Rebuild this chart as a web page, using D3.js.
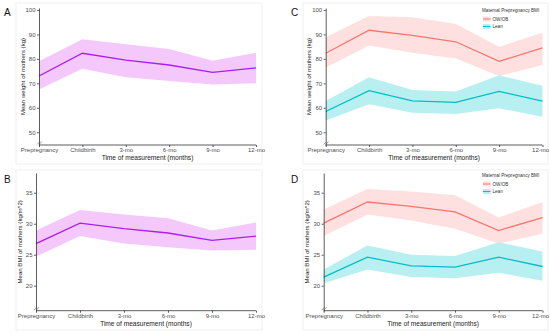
<!DOCTYPE html>
<meta charset="utf-8">
<title>Maternal weight and BMI</title>
<style>
  body { margin: 0; background: #fff; }
  svg { font-family: "Liberation Sans", Arial, sans-serif; }
  .tick text { fill: #4d4d4d; font-size: 6px; }
  .axis path, .axis line { stroke: #333; stroke-width: 0.8px; }
  .ytitle { fill: #1a1a1a; font-size: 6.1px; }
  .xtitle { fill: #1a1a1a; font-size: 6.6px; }
  .plabel { font-size: 10px; fill: #111; }
  .legend text { fill: #333; font-size: 4.6px; }
</style>
<body>
<svg width="550" height="335"></svg>
<script src="https://d3js.org/d3.v7.min.js"></script>
<script>

  var times = ["Prepregnancy", "Childbirth", "3-mo", "6-mo", "9-mo", "12-mo"];

  // A: weight, all mothers
  var wAllMean = [73.0, 82.3, 79.5, 77.5, 74.5, 76.3];
  var wAllHi   = [79.0, 88.0, 86.0, 84.0, 79.2, 82.5];
  var wAllLo   = [67.5, 76.0, 72.5, 71.0, 69.5, 70.0];

  // B: BMI, all mothers
  var bAllMean = [26.8, 30.1, 29.2, 28.5, 27.3, 28.0];
  var bAllHi   = [28.9, 32.2, 31.5, 30.9, 28.9, 30.2];
  var bAllLo   = [24.7, 28.0, 26.8, 26.2, 25.7, 25.8];

  // C: weight by prepregnancy BMI group
  var wObMean  = [82.3, 91.7, 89.6, 87.0, 79.0, 84.5];
  var wObHi    = [88.8, 97.5, 97.0, 94.3, 85.0, 90.7];
  var wObLo    = [76.5, 85.5, 82.5, 80.2, 73.0, 77.5];
  var wLeanMean = [58.5, 67.0, 62.8, 62.2, 66.7, 62.7];
  var wLeanHi   = [62.8, 72.5, 67.3, 66.7, 73.3, 69.0];
  var wLeanLo   = [54.8, 61.5, 58.0, 57.5, 59.8, 56.3];

  // D: BMI by prepregnancy BMI group
  var bObMean  = [30.1, 33.5, 32.8, 31.9, 28.9, 31.0];
  var bObHi    = [32.3, 35.6, 35.2, 34.6, 31.0, 33.5];
  var bObLo    = [28.0, 31.5, 30.5, 29.2, 26.8, 28.4];
  var bLeanMean = [21.4, 24.6, 23.2, 23.0, 24.6, 23.1];
  var bLeanHi   = [22.6, 26.5, 25.0, 24.8, 27.0, 25.5];
  var bLeanLo   = [20.4, 22.6, 21.4, 21.2, 22.1, 20.8];

  var weightTicks = [50, 60, 70, 80, 90, 100];
  var bmiTicks = [20, 25, 30, 35];
  var groups = ["OW/OB", "Lean"];

  var purple = { line: "#a81ff0", fill: "#f4c8fb" };
  var red = { line: "#f8766d", fill: "#fde0df" };
  var teal = { line: "#00bfc4", fill: "#b8eff1" };

  var svg = d3.select("svg");

  var panels = [
    { label: "A", box: [16, 3, 262, 164], x: [39, 256], y: [145, 8], dom: [44.8, 100.8], ticks: weightTicks,
      ytitle: "Mean weight of mothers (kg)", series: [{ m: wAllMean, hi: wAllHi, lo: wAllLo, c: purple }] },
    { label: "B", box: [16, 170, 262, 330], x: [36, 256], y: [310.7, 173], dom: [15.97, 38.18], ticks: bmiTicks,
      ytitle: "Mean BMI of mothers (kg/m^2)", series: [{ m: bAllMean, hi: bAllHi, lo: bAllLo, c: purple }] },
    { label: "C", box: [303, 3, 548, 164], x: [325.7, 542.5], y: [145, 8], dom: [44.8, 100.8], ticks: weightTicks,
      ytitle: "Mean weight of mothers (kg)", legend: true,
      series: [{ m: wObMean, hi: wObHi, lo: wObLo, c: red }, { m: wLeanMean, hi: wLeanHi, lo: wLeanLo, c: teal }] },
    { label: "D", box: [303, 170, 548, 330], x: [323.7, 542.5], y: [310.7, 173], dom: [15.97, 38.18], ticks: bmiTicks,
      ytitle: "Mean BMI of mothers (kg/m^2)", legend: true,
      series: [{ m: bObMean, hi: bObHi, lo: bObLo, c: red }, { m: bLeanMean, hi: bLeanHi, lo: bLeanLo, c: teal }] }
  ];

  panels.forEach(function (p) {
    var g = svg.append("g");

    g.append("rect")
      .attr("x", p.box[0]).attr("y", p.box[1])
      .attr("width", p.box[2] - p.box[0]).attr("height", p.box[3] - p.box[1])
      .attr("fill", "none").attr("stroke", "#ececec").attr("stroke-width", 0.8);

    var x = d3.scalePoint().domain(times).range(p.x);
    var y = d3.scaleLinear().domain(p.dom).range(p.y);

    var area = d3.area()
      .x(function (d, i) { return x(times[i]); })
      .y0(function (d) { return y(d[0]); })
      .y1(function (d) { return y(d[1]); });
    var line = d3.line()
      .x(function (d, i) { return x(times[i]); })
      .y(function (d) { return y(d); });

    p.series.forEach(function (s) {
      g.append("path")
        .attr("d", area(s.lo.map(function (v, i) { return [v, s.hi[i]]; })))
        .attr("fill", s.c.fill);
    });
    p.series.forEach(function (s) {
      g.append("path")
        .attr("d", line(s.m))
        .attr("fill", "none")
        .attr("stroke", s.c.line)
        .attr("stroke-width", 1.3);
    });

    var xAxis = g.append("g").attr("class", "axis")
      .attr("transform", "translate(0," + p.y[0] + ")")
      .call(d3.axisBottom(x).tickSize(2).tickPadding(1.2).tickSizeOuter(0));
    xAxis.select(".domain").attr("d", "M" + p.x[0] + ",0H" + p.x[1]);
    // keep the last label inside the right edge
    if (p.x[1] > 540) {
      xAxis.selectAll(".tick text").filter(function (d) { return d === "12-mo"; })
        .attr("dx", "-0.4em");
    }

    g.append("g").attr("class", "axis")
      .attr("transform", "translate(" + p.x[0] + ",0)")
      .call(d3.axisLeft(y).tickValues(p.ticks).tickSize(2).tickPadding(1.5).tickSizeOuter(0));

    // axis break marks
    var bx = p.x[0], by = p.y[0] - 2;
    [0, 2].forEach(function (o) {
      g.append("line")
        .attr("x1", bx - 2 + o).attr("y1", by + 1.5)
        .attr("x2", bx + 1 + o).attr("y2", by - 1.5)
        .attr("stroke", "#555").attr("stroke-width", 0.6);
    });

    g.append("text").attr("class", "plabel")
      .attr("x", p.box[0] - 12).attr("y", p.box[1] + 13)
      .text(p.label);

    var midY = (p.y[0] + p.y[1]) / 2;
    g.append("text").attr("class", "ytitle")
      .attr("transform", "translate(" + (p.x[0] - 14.5) + "," + midY + ") rotate(-90)")
      .attr("text-anchor", "middle")
      .text(p.ytitle);

    g.append("text").attr("class", "xtitle")
      .attr("x", (p.x[0] + p.x[1]) / 2).attr("y", p.y[0] + 15)
      .attr("text-anchor", "middle")
      .text("Time of measurement (months)");

    if (p.legend) {
      var lg = g.append("g").attr("class", "legend")
        .attr("transform", "translate(482," + (p.y[1] + 4) + ")");
      lg.append("text").attr("x", 0).attr("y", 0).text("Maternal Prepregnancy BMI");
      p.series.forEach(function (s, i) {
        var yy = 7 + i * 7.5;
        lg.append("rect").attr("x", 1).attr("y", yy - 2.5).attr("width", 7.5).attr("height", 5)
          .attr("fill", s.c.fill);
        lg.append("line").attr("x1", 1).attr("x2", 8.5).attr("y1", yy).attr("y2", yy)
          .attr("stroke", s.c.line).attr("stroke-width", 1);
        lg.append("text").attr("x", 10.5).attr("y", yy + 1.6).text(groups[i]);
      });
    }
  });

</script>
</body>
